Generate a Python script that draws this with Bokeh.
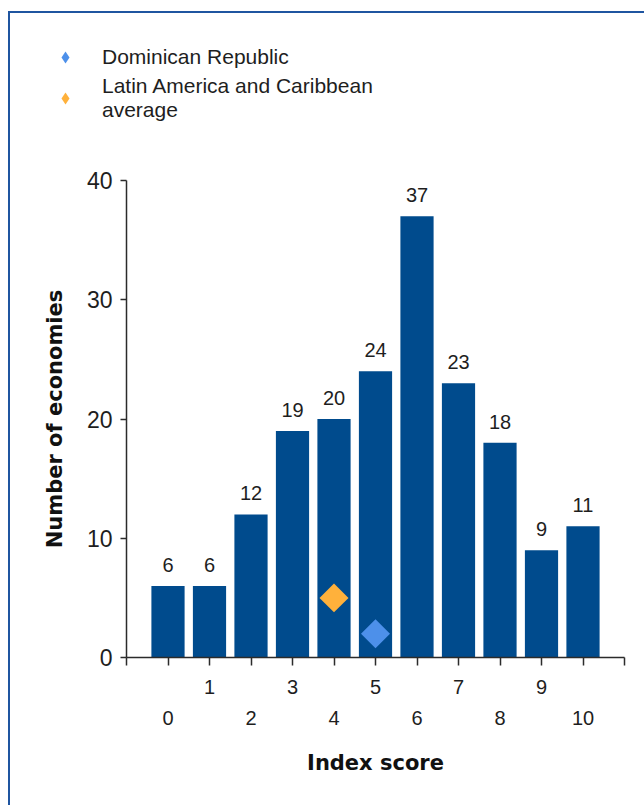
import math
from bokeh.plotting import figure
from bokeh.layouts import column
from bokeh.models import (Range1d, FixedTicker, LinearAxis, ColumnDataSource,
                          LabelSet, Legend, LegendItem)
from bokeh.core.properties import value
from bokeh.embed import file_html
from bokeh.resources import INLINE

# ---- data ----
scores = [0, 1, 2, 3, 4, 5, 6, 7, 8, 9, 10]
counts = [6, 6, 12, 19, 20, 24, 37, 23, 18, 9, 11]
dr_score = [5]
dr_value = [2]
lac_score = [4]
lac_value = [5]
y_ticks = [0, 10, 20, 30, 40]
x_ticks_all = list(range(-1, 12))
odd_ticks = [1, 3, 5, 7, 9]
even_ticks = [0, 2, 4, 6, 8, 10]
series_names = ["Dominican Republic", "Latin America and Caribbean\naverage"]

BAR = "#004B8D"
DR_COLOR = "#4D90EA"
LAC_COLOR = "#FFB13B"
TXT = "#1E1E1E"
AX = "#2B2B2B"
FRAME = "2px solid #1F55A0"

# ---------- main chart ----------
p = figure(width=634, height=641, output_backend="svg", toolbar_location=None,
           x_range=Range1d(-1, 11), y_range=Range1d(0, 40),
           min_border_left=116, min_border_right=20, min_border_top=16,
           min_border_bottom=148, x_axis_location=None, y_axis_location="left")
p.outline_line_color = None
p.grid.visible = False

src = ColumnDataSource(dict(x=scores, top=counts, lab=[str(c) for c in counts]))
p.vbar(x="x", top="top", width=0.8, source=src, fill_color=BAR, line_color=None)

labels = LabelSet(x="x", y="top", text="lab", source=src, text_align="center",
                  text_baseline="alphabetic", y_offset=14,
                  text_font=value("Liberation Sans"),
                  text_font_size=value("20px"), text_color=TXT)
p.add_layout(labels)

p.scatter(dr_score, dr_value, marker="square", size=20.5, angle=math.pi / 4,
          fill_color=DR_COLOR, line_color=None)
p.scatter(lac_score, lac_value, marker="square", size=20.5, angle=math.pi / 4,
          fill_color=LAC_COLOR, line_color=None)

# y axis
ya = p.yaxis[0]
ya.ticker = FixedTicker(ticks=y_ticks)
ya.minor_tick_line_color = None
ya.major_tick_in = 0
ya.major_tick_out = 6
ya.major_label_standoff = 8
ya.major_label_text_font = "Liberation Sans"
ya.major_label_text_font_size = "23px"
ya.major_label_text_color = TXT
ya.axis_line_color = AX
ya.axis_line_width = 1.5
ya.major_tick_line_color = AX
ya.major_tick_line_width = 1.5
ya.axis_label = "Number of economies"
ya.axis_label_text_font = "DejaVu Sans"
ya.axis_label_text_font_style = "bold"
ya.axis_label_text_font_size = "21px"
ya.axis_label_text_color = "#111111"
ya.axis_label_standoff = 17

# x axis: odd labels row
xa1 = LinearAxis(ticker=FixedTicker(ticks=x_ticks_all))
xa1.major_label_overrides = {t: (str(t) if t in odd_ticks else "") for t in x_ticks_all}
xa1.minor_tick_line_color = None
xa1.major_tick_in = 0
xa1.major_tick_out = 8
xa1.major_label_standoff = 14
xa1.major_label_text_font = "Liberation Sans"
xa1.major_label_text_font_size = "20px"
xa1.major_label_text_color = TXT
xa1.axis_line_color = AX
xa1.axis_line_width = 1.5
xa1.major_tick_line_color = AX
xa1.major_tick_line_width = 1.5
p.add_layout(xa1, "below")

# x axis: even labels row
xa2 = LinearAxis(ticker=FixedTicker(ticks=even_ticks))
xa2.major_label_overrides = {t: str(t) for t in even_ticks}
xa2.axis_line_color = None
xa2.major_tick_line_color = None
xa2.minor_tick_line_color = None
xa2.major_tick_in = 0
xa2.major_tick_out = 0
xa2.minor_tick_out = 0
xa2.major_label_standoff = 14
xa2.major_label_text_font = "Liberation Sans"
xa2.major_label_text_font_size = "20px"
xa2.major_label_text_color = TXT
xa2.axis_label = "Index score"
xa2.axis_label_text_font = "DejaVu Sans"
xa2.axis_label_text_font_style = "bold"
xa2.axis_label_text_font_size = "21px"
xa2.axis_label_text_color = "#111111"
xa2.axis_label_standoff = 23
p.add_layout(xa2, "below")

# ---------- legend strip ----------
lg = figure(width=634, height=151, output_backend="svg", toolbar_location=None,
            x_range=Range1d(0, 1), y_range=Range1d(0, 1),
            min_border_left=0, min_border_right=0, min_border_top=0,
            min_border_bottom=0, x_axis_location=None, y_axis_location=None)
lg.outline_line_color = None
lg.grid.visible = False
l_dr = lg.scatter(dr_score, dr_value, marker="diamond", size=20.5,
                  fill_color=DR_COLOR, line_color=None)
l_lac = lg.scatter(lac_score, lac_value, marker="diamond", size=20.5,
                   fill_color=LAC_COLOR, line_color=None)

legend = Legend(items=[LegendItem(label=series_names[0], renderers=[l_dr]),
                       LegendItem(label=series_names[1], renderers=[l_lac])],
                location=(40, 42), orientation="vertical",
                label_text_font="Liberation Sans", label_text_font_size="21px",
                label_text_color=TXT, glyph_width=30, glyph_height=30,
                label_standoff=22, spacing=2, padding=0, margin=0,
                border_line_color=None, background_fill_alpha=0)
lg.add_layout(legend, "center")

top_box = column(lg, spacing=0)
top_box.styles = {"border-top": FRAME, "border-left": FRAME,
                  "margin-top": "11px", "margin-left": "8px"}
main_box = column(p, spacing=0)
main_box.styles = {"border-left": FRAME, "margin-left": "8px"}

open("out.html", "w").write(file_html([top_box, main_box], INLINE))
